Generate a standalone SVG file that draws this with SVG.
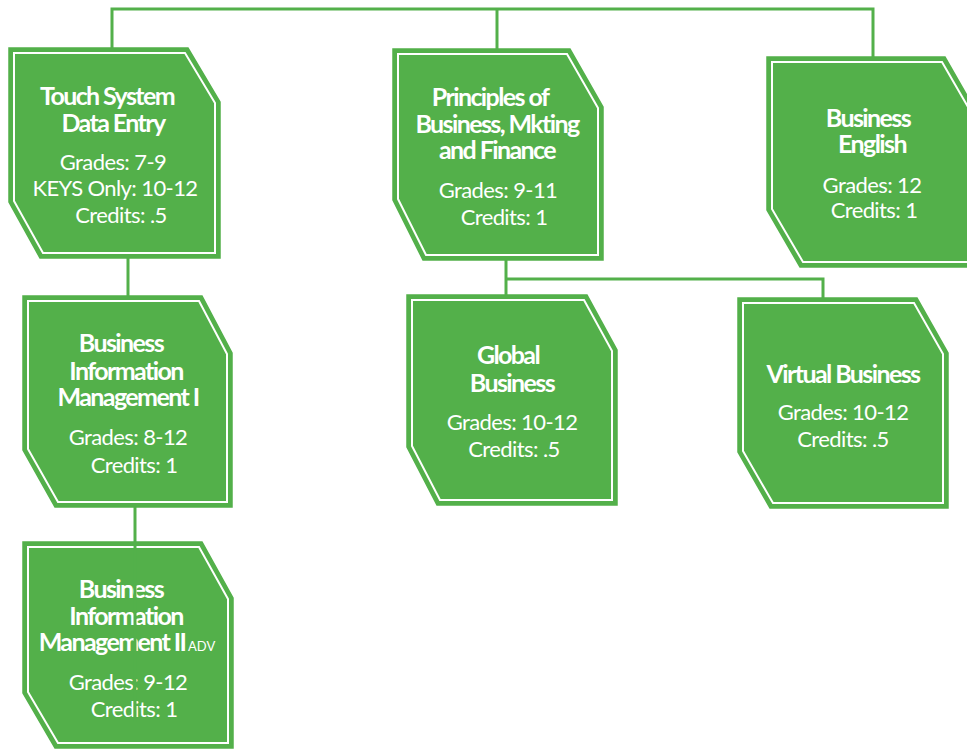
<svg xmlns="http://www.w3.org/2000/svg" width="967" height="749" viewBox="0 0 967 749">
<style>
.box{fill:#53b04a;stroke:#53b04a;stroke-width:1.5}
.inner{fill:none;stroke:#ffffff;stroke-width:2}
.t{font-family:Lato,"Open Sans","Liberation Sans",sans-serif;font-weight:700;font-size:25px;fill:#ffffff;text-anchor:middle;letter-spacing:-1.6px}
.b{font-family:Lato,"Open Sans","Liberation Sans",sans-serif;font-weight:400;font-size:22px;fill:#ffffff;text-anchor:middle;letter-spacing:-0.6px}
.s{font-family:Lato,"Open Sans","Liberation Sans",sans-serif;font-weight:400;font-size:13px;fill:#ffffff}
.c{fill:none;stroke:#53b04a;stroke-width:3}
</style>
<rect width="967" height="749" fill="#ffffff"/>
<g id="node-touch">
<polygon class="box" points="9,48 188,48 220,102 220,258 40,258 9,202"/>
<polygon class="inner" points="14,53 185,53 215,103 215,253 43,253 14,201"/>
<text class="t" x="107" y="105">Touch System</text>
<text class="t" x="113" y="132">Data Entry</text>
<text class="b" x="113" y="170">Grades: 7-9</text>
<text class="b" x="115" y="196">KEYS Only: 10-12</text>
<text class="b" x="121" y="223">Credits: .5</text>
</g>
<g id="node-bim1">
<polygon class="box" points="23,296 202,296 232,353 232,507 55,507 23,450"/>
<polygon class="inner" points="28,301 199,301 227,354 227,502 58,502 28,449"/>
<text class="t" x="121" y="352">Business</text>
<text class="t" x="126" y="380">Information</text>
<text class="t" x="128" y="406">Management I</text>
<text class="b" x="128" y="445">Grades: 8-12</text>
<text class="b" x="134" y="473">Credits: 1</text>
</g>
<g id="node-bim2">
<polygon class="box" points="23,542 202,542 233,598 233,748 55,748 23,693"/>
<polygon class="inner" points="28,547 199,547 228,599 228,743 58,743 28,692"/>
<text class="t" x="121" y="598">Business</text>
<text class="t" x="126" y="625">Information</text>
<text class="t" x="112" y="651">Management II</text>
<text class="s" x="188" y="651">ADV</text>
<text class="b" x="128" y="690">Grades: 9-12</text>
<text class="b" x="134" y="717">Credits: 1</text>
</g>
<g id="node-principles">
<polygon class="box" points="393,49 570,49 603,107 603,260 423,260 393,200"/>
<polygon class="inner" points="398,54 567,54 598,108 598,255 426,255 398,199"/>
<text class="t" x="490" y="106">Principles of</text>
<text class="t" x="497" y="133">Business, Mkting</text>
<text class="t" x="497" y="159">and Finance</text>
<text class="b" x="498" y="198">Grades: 9-11</text>
<text class="b" x="504" y="225">Credits: 1</text>
</g>
<g id="node-english">
<polygon class="box" points="767,57 945,57 977,113 977,267 800,267 767,210"/>
<polygon class="inner" points="772,62 942,62 972,114 972,262 803,262 772,209"/>
<text class="t" x="868" y="127">Business</text>
<text class="t" x="872" y="153">English</text>
<text class="b" x="872" y="193">Grades: 12</text>
<text class="b" x="874" y="218">Credits: 1</text>
</g>
<g id="node-global">
<polygon class="box" points="407,295 587,295 617,350 617,505 437,505 407,447"/>
<polygon class="inner" points="412,300 584,300 612,351 612,500 440,500 412,446"/>
<text class="t" x="508" y="364">Global</text>
<text class="t" x="512" y="392">Business</text>
<text class="b" x="512" y="430">Grades: 10-12</text>
<text class="b" x="514" y="457">Credits: .5</text>
</g>
<g id="node-virtual">
<polygon class="box" points="738,298 917,298 948,353 948,508 770,508 738,452"/>
<polygon class="inner" points="743,303 914,303 943,354 943,503 773,503 743,451"/>
<text class="t" x="843" y="383">Virtual Business</text>
<text class="b" x="843" y="420">Grades: 10-12</text>
<text class="b" x="843" y="447">Credits:  .5</text>
</g>
<g id="connectors">
<path class="c" d="M112,48 V9 H873 V57"/>
<path class="c" d="M497,9 V49"/>
<path class="c" d="M128,258 V296"/>
<path class="c" d="M135,507 V722"/>
<path class="c" d="M506,260 V295"/>
<path class="c" d="M506,279 H823 V298"/>
</g>
</svg>
